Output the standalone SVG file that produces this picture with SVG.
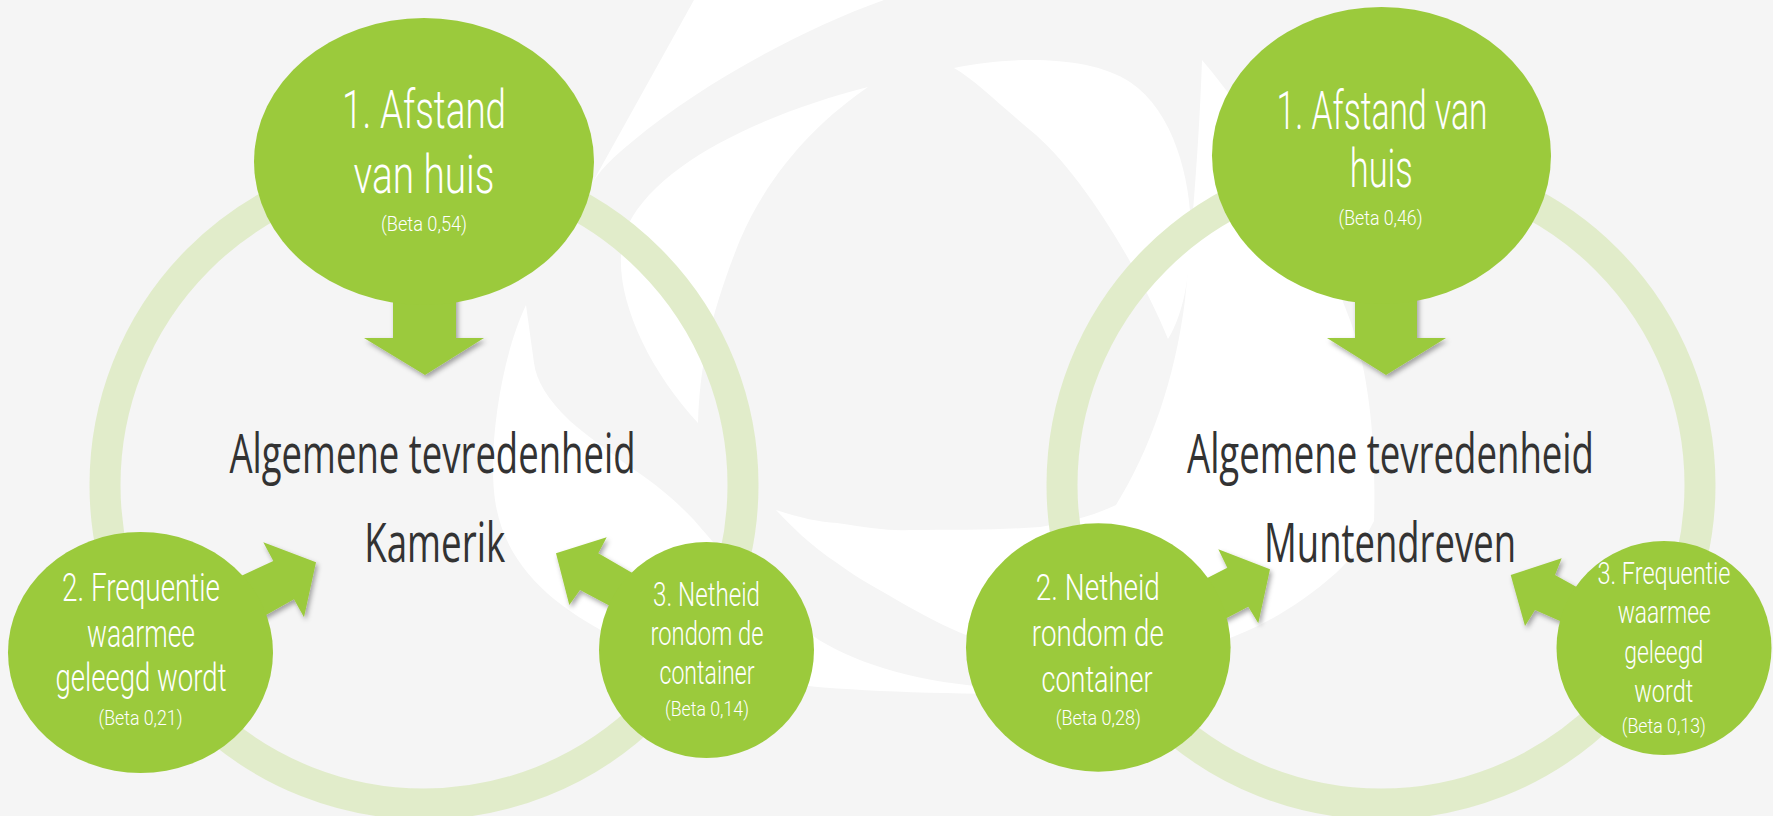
<svg xmlns="http://www.w3.org/2000/svg" width="1773" height="816" viewBox="0 0 1773 816">
<defs>
<style>
.bg{fill:#f5f5f5}
.logo{fill:#ffffff}
.ring{fill:none;stroke:#e1ecca;stroke-width:31}
.node{fill:#9bca3c}
.arrow{fill:#9bca3c;filter:url(#sh)}
.w{fill:#ffffff;font-family:Roboto,"Open Sans","Liberation Sans",sans-serif;font-weight:300;text-anchor:middle}
.big{font-size:54px}
.beta{font-size:21px}
.c{fill:#333333;font-family:"Open Sans","Liberation Sans",sans-serif;font-weight:400;font-size:54px;text-anchor:middle}
</style>
<filter id="sh" x="-30%" y="-30%" width="160%" height="160%">
<feDropShadow dx="2" dy="3" stdDeviation="2.5" flood-color="#000000" flood-opacity="0.35"/>
</filter>
</defs>
<rect class="bg" x="0" y="0" width="1773" height="816"/>
<g id="background-logo">
<path class="logo" d="M694,0 L884,0 C800,30 700,85 633,141 C612,158 598,172 590,187 Z"/>
<path class="logo" d="M868,87 C770,112 660,160 628,225 C605,275 640,360 698,423 C700,360 712,310 740,240 C770,170 820,120 868,87 Z"/>
<path class="logo" d="M954,68 C1010,56 1090,55 1130,82 C1180,115 1195,200 1190,250 C1188,290 1180,320 1168,339 C1140,270 1080,170 1030,130 C1000,105 975,80 954,68 Z"/>
<path class="logo" d="M1202,60 C1270,140 1320,240 1350,320 C1372,380 1376,460 1374,521 C1362,545 1350,560 1336,573 C1300,605 1260,628 1222,641 C1180,660 1140,670 1108,672 C1060,668 1020,656 980,640 C950,630 930,618 909,607 C880,590 860,580 837,563 C810,545 790,525 776,510 C800,518 820,522 837,523 C870,528 890,531 909,530 C960,530 1000,530 1040,527 C1070,522 1095,515 1116,505 C1150,450 1175,380 1185,300 C1195,200 1200,120 1202,60 Z"/>
<path class="logo" d="M526,305 C500,360 488,450 495,500 C505,570 560,610 620,640 C700,680 800,692 1000,694 L1000,688 C920,683 860,665 819,640 C760,600 720,550 694,520 C670,495 650,480 630,467 C600,445 580,430 569,420 C548,400 536,380 534,363 Z"/>
</g>
<g id="rings">
<circle class="ring" cx="424" cy="485" r="319"/>
<circle class="ring" cx="1381" cy="485" r="319"/>
</g>
<g id="connectors">
<polygon class="arrow" points="393,290 456,290 456,338 484,338 425,375 364,338 393,338"/>
<polygon class="arrow" points="219.5,585.9 273.3,561 263.3,542.3 316,562.3 304,617.3 294,599.3 243,628"/>
<polygon class="arrow" points="660,589 598.3,553.3 606.7,537.3 556,553.3 569.3,605 580,590 642,623"/>
<polygon class="arrow" points="1355,290 1417,290 1417,338 1446,338 1386,375 1327,338 1355,338"/>
<polygon class="arrow" points="1180,592 1227.3,567.7 1218.3,549.3 1270,569.3 1258.3,623.3 1248.3,606.7 1200,632"/>
<polygon class="arrow" points="1600,600 1555,575 1561.7,558.3 1510.7,575 1525,626 1535,610 1585,632"/>
</g>
<g id="kamerik-1-afstand">
<ellipse class="node" cx="424" cy="161.5" rx="170" ry="143.5"/>
<text class="w big"><tspan x="424" y="128" textLength="164" lengthAdjust="spacingAndGlyphs">1. Afstand</tspan><tspan x="424" y="193" textLength="141" lengthAdjust="spacingAndGlyphs">van huis</tspan><tspan class="beta" x="424" y="231" textLength="86" lengthAdjust="spacingAndGlyphs">(Beta 0,54)</tspan></text>
</g>
<g id="kamerik-2-frequentie">
<ellipse class="node" cx="140.5" cy="652.5" rx="132.5" ry="120.5"/>
<text class="w" style="font-size:38px"><tspan x="141" y="601" textLength="158" lengthAdjust="spacingAndGlyphs">2. Frequentie</tspan><tspan x="141" y="647" textLength="108" lengthAdjust="spacingAndGlyphs">waarmee</tspan><tspan x="141" y="691" textLength="171" lengthAdjust="spacingAndGlyphs">geleegd wordt</tspan><tspan class="beta" x="140.5" y="725" textLength="84" lengthAdjust="spacingAndGlyphs">(Beta 0,21)</tspan></text>
</g>
<g id="kamerik-3-netheid">
<ellipse class="node" cx="706.5" cy="650" rx="107.5" ry="108"/>
<text class="w" style="font-size:33px"><tspan x="706.5" y="606" textLength="107" lengthAdjust="spacingAndGlyphs">3. Netheid</tspan><tspan x="707" y="645" textLength="113" lengthAdjust="spacingAndGlyphs">rondom de</tspan><tspan x="707" y="684" textLength="95" lengthAdjust="spacingAndGlyphs">container</tspan><tspan class="beta" x="707" y="716" textLength="84" lengthAdjust="spacingAndGlyphs">(Beta 0,14)</tspan></text>
</g>
<g id="kamerik-center">
<text class="c" x="432.5" y="473" textLength="406" lengthAdjust="spacingAndGlyphs">Algemene tevredenheid</text>
<text class="c" x="434.7" y="562" textLength="141" lengthAdjust="spacingAndGlyphs">Kamerik</text>
</g>
<g id="muntendreven-1-afstand">
<ellipse class="node" cx="1381.5" cy="155.5" rx="169.5" ry="148.5"/>
<text class="w big"><tspan x="1382" y="129" textLength="211" lengthAdjust="spacingAndGlyphs">1. Afstand van</tspan><tspan x="1381.3" y="187" textLength="63" lengthAdjust="spacingAndGlyphs">huis</tspan><tspan class="beta" x="1380.5" y="225" textLength="84" lengthAdjust="spacingAndGlyphs">(Beta 0,46)</tspan></text>
</g>
<g id="muntendreven-2-netheid">
<ellipse class="node" cx="1098.3" cy="647.5" rx="132.3" ry="124.2"/>
<text class="w" style="font-size:37px"><tspan x="1097.8" y="600" textLength="124" lengthAdjust="spacingAndGlyphs">2. Netheid</tspan><tspan x="1097.8" y="646" textLength="132" lengthAdjust="spacingAndGlyphs">rondom de</tspan><tspan x="1097" y="692" textLength="111" lengthAdjust="spacingAndGlyphs">container</tspan><tspan class="beta" x="1098.3" y="725" textLength="85" lengthAdjust="spacingAndGlyphs">(Beta 0,28)</tspan></text>
</g>
<g id="muntendreven-3-frequentie">
<ellipse class="node" cx="1664" cy="648" rx="107.5" ry="107"/>
<text class="w" style="font-size:31px"><tspan x="1664" y="584" textLength="133" lengthAdjust="spacingAndGlyphs">3. Frequentie</tspan><tspan x="1664.2" y="623" textLength="93" lengthAdjust="spacingAndGlyphs">waarmee</tspan><tspan x="1663.7" y="663" textLength="79" lengthAdjust="spacingAndGlyphs">geleegd</tspan><tspan x="1663.7" y="702" textLength="59" lengthAdjust="spacingAndGlyphs">wordt</tspan><tspan class="beta" x="1663.8" y="733" textLength="84" lengthAdjust="spacingAndGlyphs">(Beta 0,13)</tspan></text>
</g>
<g id="muntendreven-center">
<text class="c" x="1390.5" y="473" textLength="407" lengthAdjust="spacingAndGlyphs">Algemene tevredenheid</text>
<text class="c" x="1390" y="562" textLength="252" lengthAdjust="spacingAndGlyphs">Muntendreven</text>
</g>
</svg>
